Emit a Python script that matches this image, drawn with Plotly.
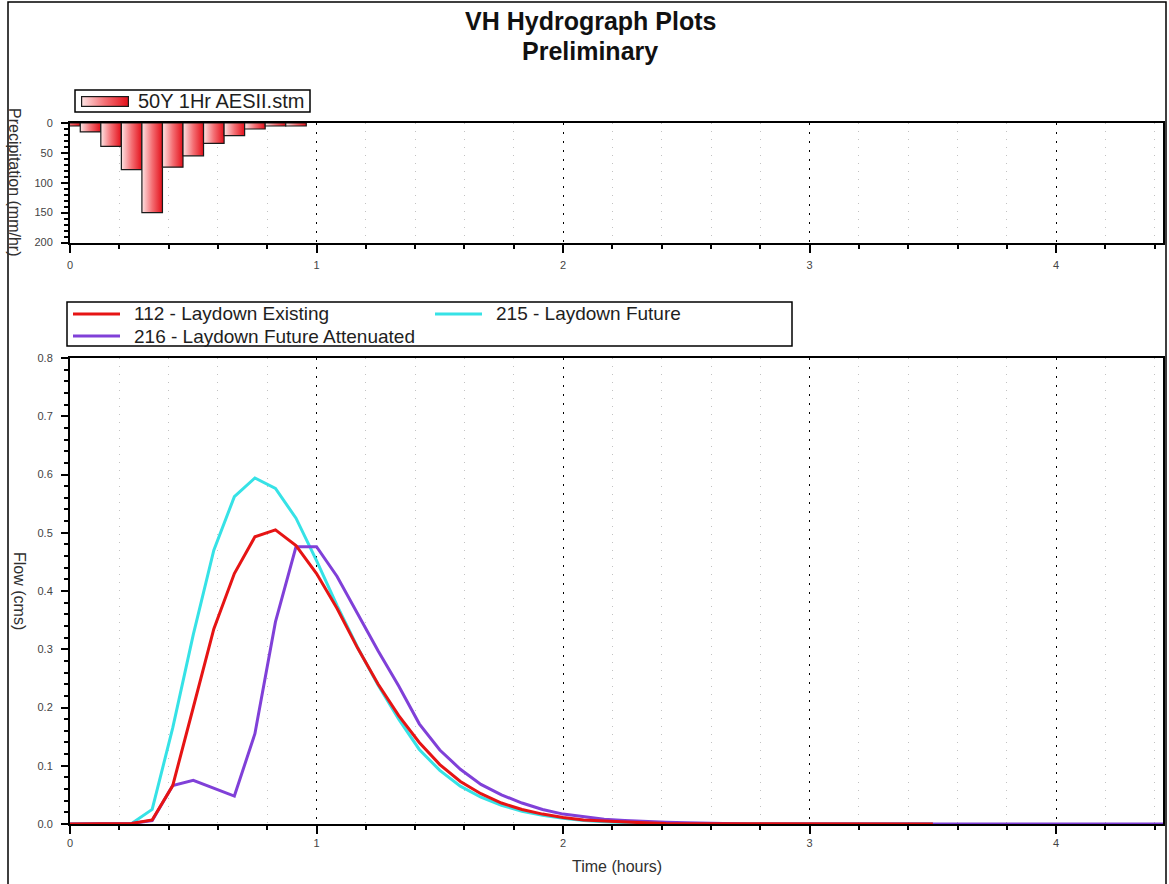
import base64
import plotly.graph_objects as go

# ---- data -----------------------------------------------------------------
STEP_H = 5 / 60          # 5-minute time step, in hours
X_MAX = 4.4333           # end of simulation (hours)

# 50Y 1Hr AESII storm, rainfall intensity per 5-min block (mm/hr)
rain_mmhr = [5, 15, 39, 78, 150, 74, 55, 34, 21, 10, 5, 5]
rain_name = "50Y 1Hr AESII.stm"

# Hydrographs (cms), one value per 5-minute step starting at t = 0
flow_112 = [0.0, 0.0, 0.0, 0.001, 0.007, 0.066, 0.200, 0.335, 0.430, 0.493,
            0.505, 0.478, 0.430, 0.370, 0.302, 0.240, 0.186, 0.140, 0.102, 0.073,
            0.052, 0.036, 0.025, 0.017, 0.011, 0.007, 0.005, 0.003, 0.002, 0.001,
            0.001, 0.0, 0.0, 0.0, 0.0, 0.0, 0.0, 0.0, 0.0, 0.0,
            0.0, 0.0, 0.0]
flow_215 = [0.0, 0.0, 0.0, 0.001, 0.025, 0.165, 0.325, 0.470, 0.562, 0.594,
            0.576, 0.525, 0.452, 0.375, 0.303, 0.238, 0.180, 0.128, 0.092, 0.065,
            0.046, 0.032, 0.022, 0.015, 0.010, 0.006, 0.004, 0.002, 0.001, 0.001,
            0.0, 0.0, 0.0, 0.0, 0.0, 0.0, 0.0, 0.0, 0.0, 0.0,
            0.0, 0.0, 0.0]
flow_216 = [0.0, 0.0, 0.0, 0.001, 0.006, 0.066, 0.075, 0.061, 0.048, 0.155,
            0.347, 0.476, 0.476, 0.425, 0.360, 0.297, 0.237, 0.172, 0.127, 0.094,
            0.068, 0.050, 0.036, 0.025, 0.017, 0.012, 0.008, 0.006, 0.004, 0.003,
            0.002, 0.001, 0.001, 0.0, 0.0, 0.0, 0.0, 0.0, 0.0, 0.0,
            0.0, 0.0, 0.0, 0.0, 0.0, 0.0, 0.0, 0.0, 0.0, 0.0,
            0.0, 0.0, 0.0, 0.0, 0.0]

NAME_112 = "112 - Laydown Existing"
NAME_215 = "215 - Laydown Future"
NAME_216 = "216 - Laydown Future Attenuated"
COL_112, COL_215, COL_216 = "#e61414", "#36e2e6", "#8040d8"

# drawing order: cyan first, purple, red on top
series = [(NAME_215, flow_215, COL_215),
          (NAME_216, flow_216, COL_216),
          (NAME_112, flow_112, COL_112)]

RAIN_SCALE = [[0, "#fde4e4"], [0.5, "#f46f74"], [1, "#e3101a"]]

# ---- page geometry ------------------------------------------------------------
W, H = 1169, 884
ML, MR = 70, 6
PW = W - ML - MR
FONT = "Liberation Sans, Arial"


def px_x(p):
    """pixel column -> paper x"""
    return (p - ML) / PW


def px_y(p):
    """pixel row -> paper y (no top/bottom margin)"""
    return (H - p) / H


fig = go.Figure()

# Rainfall blocks centred on each 5-minute step, shaded left-to-right
for i, v in enumerate(rain_mmhr):
    c = i * STEP_H
    x0, x1 = c - STEP_H / 2, c + STEP_H / 2
    fig.add_trace(go.Scatter(
        x=[x0, x0, x1, x1, x0], y=[0, v, v, 0, 0],
        mode="lines", fill="toself",
        fillgradient=dict(type="horizontal", start=x0, stop=x1, colorscale=RAIN_SCALE),
        line=dict(color="#1a1a1a", width=1.2),
        name=rain_name, showlegend=False, hoverinfo="skip",
        xaxis="x", yaxis="y",
    ))

for name, vals, col in series:
    t = [k * STEP_H for k in range(len(vals))]
    fig.add_trace(go.Scatter(
        x=t, y=vals, mode="lines", name=name,
        line=dict(color=col, width=3), showlegend=False,
        xaxis="x2", yaxis="y2",
    ))

tick_font = dict(family=FONT, size=11, color="#444444")
title_font = dict(family=FONT, size=16, color="#303030")

grid_major = dict(showgrid=True, gridcolor="#000000", gridwidth=1.2, griddash="2px,7px")
minor_x = dict(dtick=0.2, ticks="outside", ticklen=4, tickwidth=1.5, tickcolor="#000",
               showgrid=True, gridcolor="#c2c2c2", gridwidth=1, griddash="1px,7px")


def time_axis(anchor, standoff):
    return dict(
        range=[0, X_MAX], autorange=False, tick0=0, dtick=1,
        ticks="outside", ticklen=8, tickwidth=2, tickcolor="#000",
        minor=minor_x, **grid_major,
        showline=True, linewidth=2, linecolor="#000", mirror=True,
        zeroline=False, tickfont=tick_font, ticklabelstandoff=standoff,
        anchor=anchor, layer="below traces",
    )


def overlay_x(over, anchor):
    return dict(
        overlaying=over, anchor=anchor, range=[0, X_MAX], autorange=False,
        tick0=0, dtick=1, ticks="inside", ticklen=7, tickwidth=2, tickcolor="#000",
        minor=dict(dtick=0.2, ticks="inside", ticklen=4, tickwidth=1.5,
                   tickcolor="#000", showgrid=False),
        mirror="ticks", showline=True, linewidth=2, linecolor="#000",
        showgrid=False, zeroline=False, showticklabels=False,
    )


def overlay_y(over, anchor, rng, dtick, mdtick):
    return dict(
        overlaying=over, anchor=anchor, range=rng, autorange=False,
        tick0=0, dtick=dtick, ticks="inside", ticklen=7, tickwidth=2, tickcolor="#000",
        minor=dict(dtick=mdtick, ticks="inside", ticklen=4, tickwidth=1.5,
                   tickcolor="#000", showgrid=False),
        mirror="ticks", showline=True, linewidth=2, linecolor="#000",
        showgrid=False, zeroline=False, showticklabels=False,
    )


top_dom = [px_y(242.5), px_y(123)]
bot_dom = [px_y(824), px_y(358)]

# ---- legend boxes (drawn in paper space) --------------------------------------
legend_font = dict(family=FONT, size=19, color="#1e1e1e")
shapes = [
    # page frame
    dict(type="rect", xref="paper", yref="paper",
         x0=px_x(8), x1=px_x(1166), y0=px_y(890), y1=px_y(2),
         line=dict(color="#000", width=1.5), fillcolor="rgba(0,0,0,0)", layer="below"),
    # rainfall legend box
    dict(type="rect", xref="paper", yref="paper",
         x0=px_x(75), x1=px_x(310), y0=px_y(112), y1=px_y(90),
         line=dict(color="#000", width=1.5), fillcolor="rgba(0,0,0,0)"),
    # hydrograph legend box
    dict(type="rect", xref="paper", yref="paper",
         x0=px_x(67), x1=px_x(792), y0=px_y(346), y1=px_y(302),
         line=dict(color="#000", width=1.5), fillcolor="rgba(0,0,0,0)"),
]
title_style = dict(family=FONT, size=25, color="#111", weight="bold")
annotations = [
    dict(text="VH Hydrograph Plots", showarrow=False, xref="paper", yref="paper",
         x=px_x(590), y=px_y(21), xanchor="center", yanchor="middle", font=title_style),
    dict(text="Preliminary", showarrow=False, xref="paper", yref="paper",
         x=px_x(590), y=px_y(51), xanchor="center", yanchor="middle", font=title_style),
    dict(text=rain_name, showarrow=False, xref="paper", yref="paper",
         x=px_x(136), y=px_y(101), xanchor="left", yanchor="middle",
         font=dict(family=FONT, size=20, color="#1e1e1e")),
]

legend_rows = [  # (name, colour, symbol-left px, row-centre px)
    (NAME_112, COL_112, 73, 314),
    (NAME_215, COL_215, 435, 314),
    (NAME_216, COL_216, 73, 336),
]
for name, col, sx, sy in legend_rows:
    shapes.append(dict(type="line", xref="paper", yref="paper",
                       x0=px_x(sx), x1=px_x(sx + 47), y0=px_y(sy), y1=px_y(sy),
                       line=dict(color=col, width=3)))
    annotations.append(dict(text=name, showarrow=False, xref="paper", yref="paper",
                            x=px_x(sx + 59), y=px_y(sy), xanchor="left", yanchor="middle",
                            font=legend_font))

annotations += [
    dict(text="Precipitation (mm/hr)", textangle=90, showarrow=False,
         xref="paper", yref="paper", x=px_x(15), y=px_y(182),
         xanchor="center", yanchor="middle", font=title_font),
    dict(text="Flow (cms)", textangle=90, showarrow=False,
         xref="paper", yref="paper", x=px_x(20), y=px_y(591),
         xanchor="center", yanchor="middle", font=title_font),
    dict(text="Time (hours)", showarrow=False,
         xref="paper", yref="paper", x=0.5, y=px_y(866),
         xanchor="center", yanchor="middle", font=title_font),
]

# gradient swatch for the rainfall legend entry
stops = "".join(f'<stop offset="{o}" stop-color="{c}"/>' for o, c in RAIN_SCALE)
swatch_svg = (
    '<svg xmlns="http://www.w3.org/2000/svg" width="48" height="11" '
    'viewBox="0 0 48 11" preserveAspectRatio="none">'
    f'<defs><linearGradient id="g" x1="0" x2="1" y1="0" y2="0">{stops}'
    '</linearGradient></defs>'
    '<rect x="0.6" y="0.6" width="46.8" height="9.8" fill="url(#g)" '
    'stroke="#1a1a1a" stroke-width="1.2"/></svg>'
)
swatch_src = "data:image/svg+xml;base64," + base64.b64encode(swatch_svg.encode()).decode()

fig.update_layout(
    width=W, height=H,
    margin=dict(l=ML, r=MR, t=0, b=0, autoexpand=False),
    paper_bgcolor="white", plot_bgcolor="white",
    font=dict(family=FONT, color="#222"),
    showlegend=False,
    xaxis=time_axis("y", 3),
    yaxis=dict(domain=top_dom, anchor="x", range=[200, 0], autorange=False,
               tick0=0, dtick=50, ticks="outside", ticklen=7, tickwidth=2, tickcolor="#000",
               minor=dict(dtick=10, ticks="outside", ticklen=4, tickwidth=1.5,
                          tickcolor="#000", showgrid=False),
               showgrid=False, zeroline=False,
               showline=True, linewidth=2, linecolor="#000", mirror=True,
               tickfont=tick_font, ticklabelstandoff=6),
    xaxis2=time_axis("y2", 0),
    yaxis2=dict(domain=bot_dom, anchor="x2", range=[0, 0.8], autorange=False,
                tick0=0, dtick=0.1, tickformat=".1f",
                ticks="outside", ticklen=7, tickwidth=2, tickcolor="#000",
                minor=dict(dtick=0.02, ticks="outside", ticklen=4, tickwidth=1.5,
                           tickcolor="#000", showgrid=False),
                showgrid=False, zeroline=False,
                showline=True, linewidth=2, linecolor="#000", mirror=True,
                tickfont=tick_font, ticklabelstandoff=6, layer="below traces"),
    xaxis3=overlay_x("x", "y"),
    yaxis3=overlay_y("y", "x", [200, 0], 50, 10),
    xaxis4=overlay_x("x2", "y2"),
    yaxis4=overlay_y("y2", "x2", [0, 0.8], 0.1, 0.02),
    shapes=shapes,
    annotations=annotations,
    images=[dict(source=swatch_src, xref="paper", yref="paper",
                 x=px_x(81), y=px_y(96), sizex=48 / PW, sizey=11 / H,
                 xanchor="left", yanchor="top", sizing="stretch", layer="above")],
)

fig.write_html("out.html")
